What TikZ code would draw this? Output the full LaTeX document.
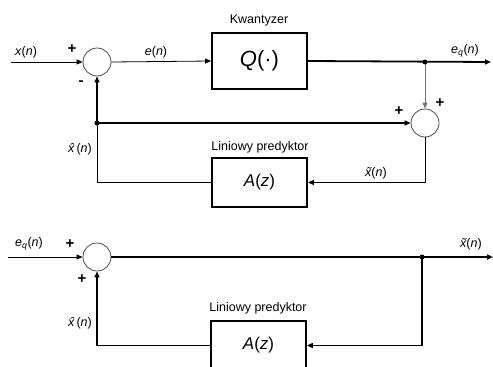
\documentclass[tikz,border=0pt]{standalone}
\usepackage{fontspec}
\setmainfont{Liberation Sans}
\usetikzlibrary{arrows.meta}
\begin{document}
\begin{tikzpicture}[x=1pt,y=-1pt,
  >={Triangle[length=6pt,width=5pt]},
  sum/.style={circle,draw=black!70,line width=0.8pt,minimum size=28pt,inner sep=0pt,fill=white},
  blk/.style={draw,line width=1.8pt,minimum width=95pt,inner sep=0pt},
  thinl/.style={line width=0.8pt},
  midl/.style={line width=1.2pt},
  thk/.style={line width=1.8pt},
  lab/.style={font=\fontsize{12.5}{14}\selectfont,inner sep=0pt},
  sgn/.style={font=\fontsize{15}{16}\selectfont\bfseries,inner sep=0pt},
  jdot/.style={circle,fill=black,inner sep=0pt,minimum size=5pt}]
\useasboundingbox (0,0) rectangle (493,367);
\clip (0,0) rectangle (493,367);
% ---------- top diagram ----------
\coordinate (in1) at (11,62);
\node[sum] (s1) at (97,62) {};
\node[blk,minimum height=56pt] (q) at (259.5,61) {\fontsize{22}{22}\selectfont\textit{Q}(·)};
\coordinate (out1) at (491,62);
\coordinate (d1) at (425,62);
\node[sum] (s2) at (425,123) {};
\coordinate (j1) at (97,123);
\node[blk,minimum height=49pt] (a1) at (259.5,182.5) {\fontsize{17}{17}\selectfont\textit{A}(\textit{z})};

\draw[thinl,->] (in1) -- (s1.west);
\draw[thinl,->] (s1.east) -- (q.west);
\draw[thk,->] (q.east) -- (out1);
\draw[line width=0.8pt,black!55,->] (d1) -- (s2.north);
\draw[thk,->] (j1) -- (s2.west);
\draw[midl,->] (j1) -- (s1.south);
\draw[thinl,->] (s2.south) |- (a1.east);
\draw[thinl] (a1.west) -| (j1);
\node[jdot] at (d1) {};
\node[jdot] at (j1) {};

\node[lab] (lx) at (26,52) {\textit{x}(\textit{n})};
\node[sgn] (p1) at (72,49) {+};
\node[sgn] (m1) at (81,83) {-};
\node[lab] (le) at (156,52) {\textit{e}(\textit{n})};
\node[lab] (lk) at (259,20) {Kwantyzer};
\node[lab] (leq) at (465,51) {\textit{e}\textsubscript{\textit{q}}(\textit{n})};
\node[sgn] (p2) at (440,103) {+};
\node[sgn] (p3) at (399,111) {+};
\node[lab] (lxh) at (80,149) {\textit{\^x}(\textit{n})};
\node[lab] (lp1) at (260,147) {Liniowy predyktor};
\node[lab] (lxt) at (376,173) {\textit{\~x}(\textit{n})};

% ---------- bottom diagram ----------
\coordinate (in2) at (8,257);
\node[sum] (s3) at (97,257) {};
\coordinate (out2) at (493,257);
\coordinate (d2) at (422,257);
\node[blk,minimum height=49pt] (a2) at (258.5,345.5) {\fontsize{17}{17}\selectfont\textit{A}(\textit{z})};

\draw[thinl,->] (in2) -- (s3.west);
\draw[thk,->] (s3.east) -- (out2);
\draw[thk,->] (d2) |- (a2.east);
\draw[midl,->] (a2.west) -| (s3.south);
\node[jdot] at (d2) {};

\node[lab] (leq2) at (29,244) {\textit{e}\textsubscript{\textit{q}}(\textit{n})};
\node[sgn] (p4) at (70,244) {+};
\node[sgn] (p5) at (82,279) {+};
\node[lab] (lxt2) at (471,244) {\textit{\~x}(\textit{n})};
\node[lab] (lxh2) at (80,323) {\textit{\^x}(\textit{n})};
\node[lab] (lp2) at (258,308) {Liniowy predyktor};
\end{tikzpicture}
\end{document}
